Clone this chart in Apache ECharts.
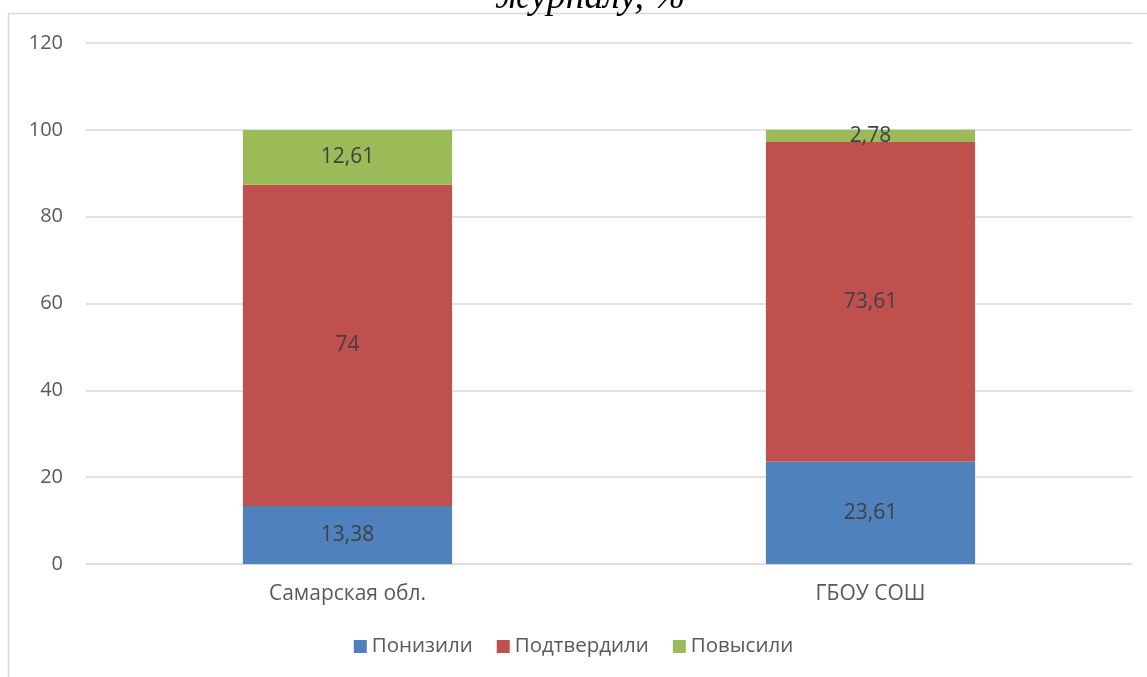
<!DOCTYPE html>
<html>
<head>
<meta charset="utf-8">
<script src="https://cdn.jsdelivr.net/npm/echarts@6/dist/echarts.min.js"></script>
<style>
  html, body { margin: 0; padding: 0; background: #fff; }
  #chart { width: 1147px; height: 677px; }
</style>
</head>
<body>
<div id="chart"></div>
<script>
  // данные
  var categories = ['Самарская обл.', 'ГБОУ СОШ'];
  var lowered = [13.38, 23.61];
  var confirmed = [74, 73.61];
  var raised = [12.61, 2.78];
  var seriesNames = ['Понизили', 'Подтвердили', 'Повысили'];
  var colorList = ['#4f81bd', '#c0504d', '#9bbb59'];

  var chart = echarts.init(document.getElementById('chart'));

  function fmt(p) {
    return String(p.value).replace('.', ',');
  }

  var valuesList = [lowered, confirmed, raised];
  var series = [];
  for (var i = 0; i < valuesList.length; i++) {
    series.push({
      type: 'bar',
      name: seriesNames[i],
      stack: 'total',
      barWidth: '40%',
      itemStyle: { color: colorList[i] },
      label: {
        show: true,
        position: 'inside',
        color: '#404040',
        fontSize: 21,
        fontFamily: 'Open Sans',
        formatter: fmt
      },
      data: valuesList[i]
    });
  }

  var option = {
    animation: false,
    textStyle: { fontFamily: 'Open Sans' },
    title: {
      text: 'журналу, %',
      left: 490,
      top: -26,
      textStyle: {
        fontFamily: 'Liberation Serif',
        fontStyle: 'italic',
        fontWeight: 'normal',
        fontSize: 38,
        color: '#000'
      }
    },
    graphic: [{
      type: 'rect',
      shape: { x: 8.5, y: 13.5, width: 1160, height: 700 },
      style: { fill: 'none', stroke: '#d9d9d9', lineWidth: 1.5 },
      silent: true
    }],
    legend: {
      data: seriesNames,
      bottom: 15,
      left: 'center',
      itemWidth: 13,
      itemHeight: 13,
      itemGap: 24,
      icon: 'rect',
      textStyle: { color: '#595959', fontSize: 20.5, fontFamily: 'Open Sans' }
    },
    grid: {
      left: 86,
      right: 15,
      top: 43,
      bottom: 113
    },
    xAxis: {
      type: 'category',
      data: categories,
      axisLine: { lineStyle: { color: '#d9d9d9' } },
      axisTick: { show: false },
      axisLabel: { color: '#595959', fontSize: 21, margin: 20 }
    },
    yAxis: {
      type: 'value',
      min: 0,
      max: 120,
      interval: 20,
      axisLine: { show: false },
      axisTick: { show: false },
      splitLine: { lineStyle: { color: '#d9d9d9', width: 1.5 } },
      axisLabel: { color: '#595959', fontSize: 20, margin: 23 }
    },
    series: series
  };

  chart.setOption(option);
</script>
</body>
</html>
